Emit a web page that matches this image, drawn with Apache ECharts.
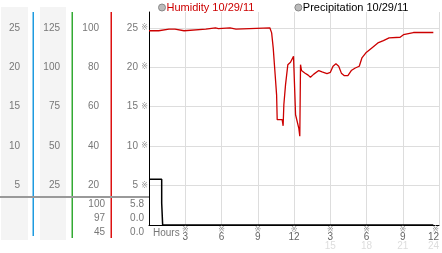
<!DOCTYPE html>
<html><head><meta charset="utf-8">
<script src="https://cdn.jsdelivr.net/npm/echarts@6/dist/echarts.min.js"></script>
<style>html,body{margin:0;padding:0;background:#fff}#c{width:442px;height:253px}</style>
</head><body><div id="c"></div>
<script>
var FONT = 'Liberation Sans';
var humName = 'Humidity 10/29/11';
var precipName = 'Precipitation 10/29/11';
var humHours = [0,0.8,0.9,1.65,1.72,1.82,2.15,2.25,2.9,3.0,4.7,4.8,5.5,5.55,5.75,5.8,6.7,6.77,7.2,7.3,10.0,10.15,10.28,10.4,10.48,10.56,10.61,11.02,11.1,11.16,11.3,11.49,11.71,11.85,11.96,12.07,12.13,12.29,12.4,12.48,12.54,12.62,12.89,13.17,13.36,13.64,14.05,14.32,14.73,15.01,15.23,15.47,15.7,15.92,16.17,16.46,16.74,17.07,17.4,17.62,17.95,18.44,18.94,19.4,19.87,20.78,21.06,21.88,23.53];
var humValues = [98.5,98.5,99.3,99.3,98.8,99.3,99.3,98.5,98.5,99.3,99.3,100,100,99.6,99.6,100,100,99.3,99.3,100,100,97.4,89.8,79.6,72.8,66,53.4,53.4,50.3,61,71.2,81.3,82.5,83,85.5,85.5,55.9,55,49,45,81.3,78.3,77.1,76,74.9,76.5,78.3,77.6,76.8,77.4,80.5,81.7,80.5,77,75.7,75.7,78.3,79.6,80.5,84.7,87.3,89.8,92.3,93.5,94.9,95.2,96.5,97.6,97.6];
var precipHours = [0,1.05,1.05,1.13,1.13,23.53];
var precipValues = [5.8,5.8,2.8,2.8,0,0];
var xTickHours = [3,6,9,12,15,18,21,24];
var xTickTop = ['3','6','9','12','3','6','9','12'];
var xTickBottom = ['','','','','15','18','21','24'];
var col1Labels = ['5','10','15','20','25'];
var col2Labels = ['25','50','75','100','125'];
var col3Labels = ['20','40','60','80','100'];
var col4Labels = ['5','10','15','20','25'];
var humReadings = ['100','97','45'];
var precipReadings = ['5.8','0.0','0.0'];

function pairs(a,b){return a.map(function(v,i){return [v,b[i]];});}
function lookup(vals, labels){return function(v){var i=vals.indexOf(v);return i<0?'':labels[i];};}

var chart = echarts.init(document.getElementById('c'), null, {renderer:'canvas'});
var readY = [204, 218, 232];
var graphics = [
  {type:'rect', shape:{x:1,y:7,width:27,height:233}, style:{fill:'#f4f4f4'}, z:-10},
  {type:'rect', shape:{x:40,y:7,width:26,height:233}, style:{fill:'#f4f4f4'}, z:-10},
  {type:'rect', shape:{x:32.5,y:12,width:1.5,height:224}, style:{fill:'#1e9be0', stroke:null}, z:5},
  {type:'rect', shape:{x:71.5,y:12,width:1.5,height:226}, style:{fill:'#33aa33', stroke:null}, z:5},
  {type:'rect', shape:{x:110.5,y:12,width:1.5,height:226}, style:{fill:'#dd1111', stroke:null}, z:5},
  {type:'rect', shape:{x:0,y:196,width:149,height:2}, style:{fill:'#999'}, z:6},
  {type:'text', x:153, y:233, style:{text:'Hours', font:'10px '+FONT, fill:'#777', verticalAlign:'middle'}}
];
humReadings.forEach(function(t,i){graphics.push({type:'text', x:105, y:readY[i], style:{text:t, font:'10px '+FONT, fill:'#777', align:'right', verticalAlign:'middle'}});});
precipReadings.forEach(function(t,i){graphics.push({type:'text', x:144, y:readY[i], style:{text:t, font:'10px '+FONT, fill:'#777', align:'right', verticalAlign:'middle'}});});

var mark = {fontSize:8, fontFamily:'DejaVu Sans', color:'#999'};
chart.setOption({
  animation:false,
  textStyle:{fontFamily:FONT},
  graphic:graphics,
  legend:{
    left:158, top:2, padding:0, itemWidth:7, itemHeight:7, itemGap:40, icon:'circle',
    itemStyle:{color:'#bbb', borderColor:'#888', borderWidth:1},
    textStyle:{fontFamily:FONT, fontSize:11, padding:[0,0,0,-4]},
    data:[{name:humName, textStyle:{color:'#cc0000'}},{name:precipName, textStyle:{color:'#000'}}]
  },
  grid:{left:149, right:1, top:12, bottom:28, containLabel:false},
  xAxis:{
    type:'value', min:0, max:24, interval:3,
    axisLine:{show:true, lineStyle:{color:'#000', width:1}},
    axisTick:{show:false},
    splitLine:{show:true, showMinLine:false, lineStyle:{color:'#ddd', width:1}},
    axisLabel:{
      margin:2, showMinLabel:false, alignMaxLabel:'right',
      formatter:function(v){var i=xTickHours.indexOf(v); if(i<0) return ''; var s='{m|※}\n{a|'+xTickTop[i]+'}'; if(xTickBottom[i]) s+='\n{b|'+xTickBottom[i]+'}'; return s;},
      rich:{m:{fontSize:8, fontFamily:'DejaVu Sans', color:'#999', lineHeight:6}, a:{fontSize:10, fontFamily:FONT, color:'#666', lineHeight:9}, b:{fontSize:10, fontFamily:FONT, color:'#ddd', lineHeight:9}}
    }
  },
  yAxis:[
    {type:'value', min:0, max:27, interval:5, position:'left',
     axisLine:{show:true, lineStyle:{color:'#000', width:1}}, axisTick:{show:false},
     splitLine:{show:true, showMinLine:false, showMaxLine:false, lineStyle:{color:'#ddd'}},
     axisLabel:{margin:1, showMinLabel:false, showMaxLabel:false,
       formatter:function(v){var s=lookup([5,10,15,20,25],col4Labels)(v); return s?'{n|'+s+'} {m|※}':'';},
       rich:{n:{fontSize:10, fontFamily:FONT, color:'#777'}, m:mark}}},
    {type:'value', min:0, max:108, interval:20, position:'left', offset:50,
     axisLine:{show:false}, axisTick:{show:false}, splitLine:{show:false},
     axisLabel:{margin:0, showMinLabel:false, showMaxLabel:false, fontSize:10, color:'#777', formatter:lookup([20,40,60,80,100],col3Labels)}},
    {type:'value', min:0, max:135, interval:25, position:'left', offset:89,
     axisLine:{show:false}, axisTick:{show:false}, splitLine:{show:false},
     axisLabel:{margin:0, showMinLabel:false, showMaxLabel:false, fontSize:10, color:'#777', formatter:lookup([25,50,75,100,125],col2Labels)}},
    {type:'value', min:0, max:27, interval:5, position:'left', offset:129,
     axisLine:{show:false}, axisTick:{show:false}, splitLine:{show:false},
     axisLabel:{margin:0, showMinLabel:false, showMaxLabel:false, fontSize:10, color:'#777', formatter:lookup([5,10,15,20,25],col1Labels)}}
  ],
  series:[
    {name:humName, type:'line', yAxisIndex:1, data:pairs(humHours,humValues), showSymbol:false, color:'#cc0000', lineStyle:{color:'#cc0000', width:1.3}, z:3},
    {name:precipName, type:'line', yAxisIndex:0, data:pairs(precipHours,precipValues), showSymbol:false, color:'#000', lineStyle:{color:'#000', width:1.5}, z:4}
  ]
});
</script></body></html>
